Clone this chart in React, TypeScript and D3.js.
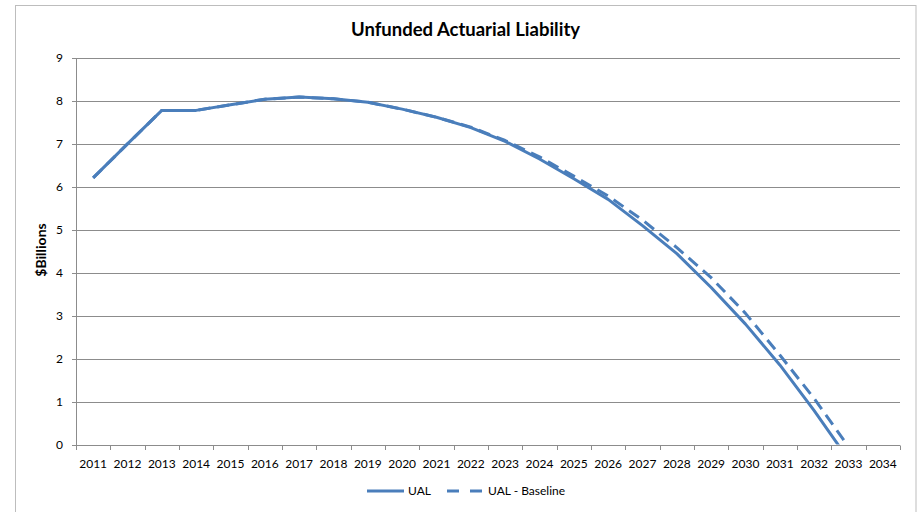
import React from "react";
import * as d3 from "d3";

// Fiscal years on the category axis
const years = [
  "2011", "2012", "2013", "2014", "2015", "2016", "2017", "2018",
  "2019", "2020", "2021", "2022", "2023", "2024", "2025", "2026",
  "2027", "2028", "2029", "2030", "2031", "2032", "2033", "2034",
];

// Unfunded actuarial liability, $ billions (null = no value)
const ual: (number | null)[] = [
  6.2, 6.99, 7.77, 7.77, 7.9, 8.03, 8.08, 8.04,
  7.96, 7.8, 7.61, 7.37, 7.05, 6.64, 6.18, 5.7,
  5.09, 4.44, 3.65, 2.8, 1.85, 0.79, -0.35, null,
];

const ualBaseline: (number | null)[] = [
  6.2, 6.99, 7.77, 7.77, 7.9, 8.03, 8.08, 8.04,
  7.96, 7.8, 7.61, 7.38, 7.07, 6.69, 6.24, 5.78,
  5.22, 4.58, 3.88, 3.05, 2.08, 1.07, -0.05, null,
];

const yTicks = [0, 1, 2, 3, 4, 5, 6, 7, 8, 9];

const W = 920;
const H = 512;
const plot = { left: 76, right: 900, top: 57.5, bottom: 444.5 };
const BLUE = "#4a7ebb";
const GRID = "#8c8c8c";
const FONT = "Lato, 'Open Sans', sans-serif";

export default function App() {
  const x = d3
    .scaleBand<string>()
    .domain(years)
    .range([plot.left, plot.right])
    .padding(0);
  const y = d3.scaleLinear().domain([0, 9]).range([plot.bottom, plot.top]);
  const cx = (yr: string) => (x(yr) as number) + x.bandwidth() / 2;

  const line = d3
    .line<[string, number | null]>()
    .defined((d) => d[1] !== null)
    .x((d) => cx(d[0]))
    .y((d) => y(d[1] as number));

  const ualPath = line(years.map((yr, i) => [yr, ual[i]]));
  const basePath = line(years.map((yr, i) => [yr, ualBaseline[i]]));

  const boundaries = [...years.map((yr) => x(yr) as number), plot.right];

  return (
    <svg
      width={W}
      height={H}
      style={{ position: "absolute", left: 0, top: 0, background: "#fff" }}
      fontFamily={FONT}
    >
      <defs>
        <clipPath id="plot-clip">
          <rect x={plot.left} y={0} width={plot.right - plot.left + 10} height={plot.bottom} />
        </clipPath>
      </defs>
      <rect x={0} y={0} width={W} height={H} fill="#fff" />
      {/* chart frame */}
      <rect x={15.5} y={5.5} width={900.5} height={520} fill="none" stroke="#bdbdbd" strokeWidth={1} />

      <text x={465.5} y={36} textAnchor="middle" fontSize={18.5} fontWeight="bold" fill="#000">
        Unfunded Actuarial Liability
      </text>

      {/* horizontal gridlines */}
      {yTicks.map((t) => (
        <line
          key={`g${t}`}
          x1={plot.left - 4}
          x2={plot.right}
          y1={Math.round(y(t)) + 0.5}
          y2={Math.round(y(t)) + 0.5}
          stroke={GRID}
          strokeWidth={1}
        />
      ))}
      {/* y axis line */}
      <line
        x1={plot.left + 0.5}
        x2={plot.left + 0.5}
        y1={Math.round(y(9)) + 0.5}
        y2={Math.round(y(0)) + 0.5}
        stroke={GRID}
      />
      {/* x axis tick marks at category boundaries */}
      {boundaries.map((bx, i) => (
        <line
          key={`xt${i}`}
          x1={Math.round(bx) + 0.5}
          x2={Math.round(bx) + 0.5}
          y1={Math.round(y(0)) + 0.5}
          y2={Math.round(y(0)) + 5}
          stroke={GRID}
        />
      ))}

      {/* y tick labels */}
      {yTicks.map((t) => (
        <text key={`yl${t}`} x={63} y={y(t)} dy="0.35em" textAnchor="end" fontSize={12} fill="#000">
          {t}
        </text>
      ))}
      {/* x tick labels */}
      {years.map((yr) => (
        <text key={`xl${yr}`} x={cx(yr)} y={467.5} textAnchor="middle" fontSize={12} fill="#000">
          {yr}
        </text>
      ))}

      <text
        transform={`translate(46,250) rotate(-90)`}
        textAnchor="middle"
        fontSize={14}
        fontWeight="bold"
        fill="#000"
      >
        $Billions
      </text>

      <g clipPath="url(#plot-clip)">
        <path
          d={basePath ?? ""}
          fill="none"
          stroke={BLUE}
          strokeWidth={3}
          strokeDasharray="12,7"
          strokeLinejoin="round"
        />
        <path d={ualPath ?? ""} fill="none" stroke={BLUE} strokeWidth={3} strokeLinejoin="round" />
      </g>

      {/* legend */}
      <line x1={367} x2={404} y1={491} y2={491} stroke={BLUE} strokeWidth={3} />
      <text x={408} y={495} fontSize={12} fill="#000">UAL</text>
      <line x1={447} x2={482} y1={491} y2={491} stroke={BLUE} strokeWidth={3} strokeDasharray="12,11" />
      <text x={488} y={495} fontSize={12} fill="#000">UAL - Baseline</text>
    </svg>
  );
}
